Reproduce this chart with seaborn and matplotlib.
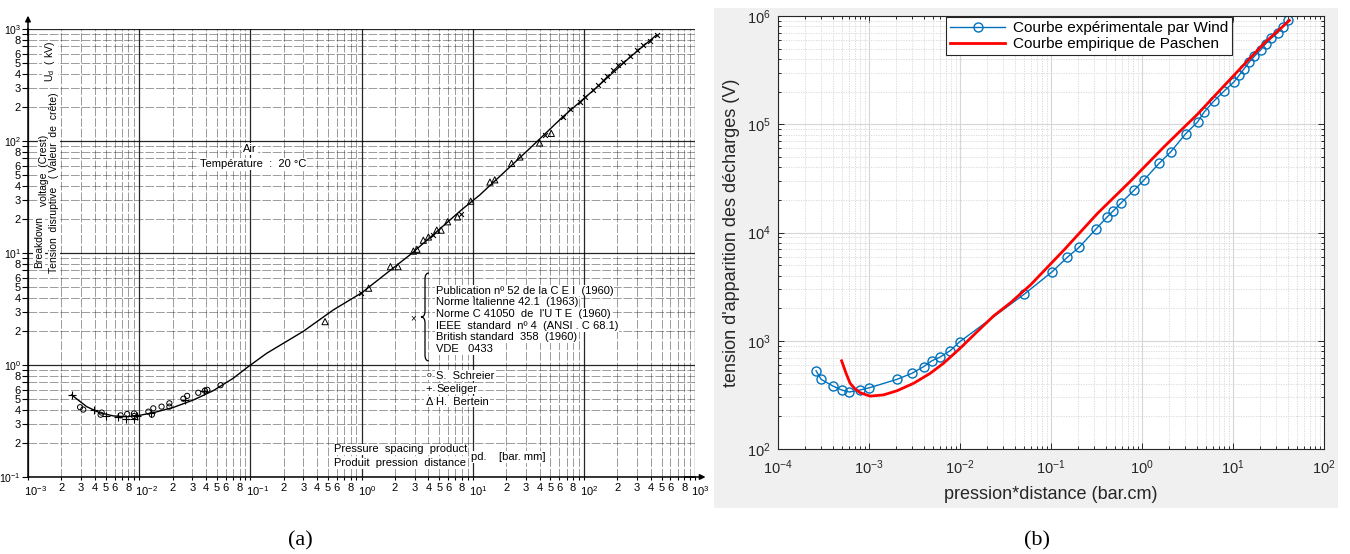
import numpy as np
import seaborn as sns
import matplotlib.pyplot as plt
from matplotlib.ticker import FixedLocator, FuncFormatter, NullFormatter
from matplotlib.patches import Rectangle, PathPatch
from matplotlib.path import Path
from matplotlib.transforms import ScaledTranslation

plt.rcParams['font.family'] = ['Liberation Sans', 'DejaVu Sans']
plt.rcParams['mathtext.fontset'] = 'custom'
plt.rcParams['mathtext.rm'] = 'Liberation Sans'
plt.rcParams['mathtext.it'] = 'Liberation Sans:italic'
plt.rcParams['mathtext.bf'] = 'Liberation Sans:bold'

# ---------------- data, panel (a): air, pd in bar.mm, Ud in kV ----------------
curve_pd = [2.47e-3, 3.37e-3, 4.4e-3, 5.85e-3, 7.7e-3, 1.02e-2, 1.34e-2, 2.03e-2,
            3.07e-2, 4.64e-2, 7.0e-2, 9.57e-2, 0.14, 0.30, 0.557, 1.0, 2.72, 4.4,
            7.9, 11.6, 32.7, 65, 130, 260, 450]
curve_kv = [0.54, 0.425, 0.375, 0.351, 0.345, 0.356, 0.375, 0.418,
            0.487, 0.59, 0.76, 0.966, 1.27, 2.0, 3.1, 4.4, 9.6, 14.5,
            24.2, 33, 86, 165, 300, 560, 883]

schreier_pd = [2.94e-3, 3.14e-3, 4.5e-3, 4.6e-3, 6.8e-3, 7.8e-3, 9.0e-3, 9.0e-3, 1.21e-2,
               1.3e-2, 1.34e-2, 1.59e-2, 1.87e-2, 1.87e-2, 2.5e-2, 2.7e-2, 3.4e-2, 3.9e-2,
               4.1e-2, 5.4e-2]
schreier_kv = [0.42, 0.40, 0.36, 0.376, 0.355, 0.365, 0.37, 0.35, 0.383,
               0.36, 0.41, 0.425, 0.455, 0.425, 0.50, 0.53, 0.565, 0.59,
               0.60, 0.66]

seeliger_pd = [2.5e-3, 3.9e-3, 5.0e-3, 6.5e-3, 7.6e-3, 8.9e-3, 9.6e-3, 1.29e-2, 2.6e-2, 3.8e-2]
seeliger_kv = [0.54, 0.40, 0.35, 0.34, 0.33, 0.33, 0.35, 0.37, 0.49, 0.59]

bertein_pd = [0.47, 1.16, 1.82, 2.13, 2.93, 3.15, 3.6, 4.0, 4.75, 5.2, 5.95, 7.3, 9.6,
              14.3, 15.8, 22.4, 26.6, 40, 51]
bertein_kv = [2.44, 4.85, 7.55, 7.55, 10.4, 10.8, 13, 13.9, 16, 16, 19, 21, 29,
              43, 45, 63, 72, 96, 117]

standards_pd = [0.98, 4.4, 7.9, 45, 65, 75, 92, 102, 121, 135, 149, 160, 184, 204,
                226, 260, 298, 342, 393, 451]
standards_kv = [4.35, 14.5, 22.5, 113, 165, 195, 224, 249, 285, 316, 351, 380, 430, 477,
                511, 574, 650, 720, 787, 883]

standards_text = ["Publication nº 52 de la C E I  (1960)",
                  "Norme Italienne 42.1  (1963)",
                  "Norme C 41050  de  l'U T E  (1960)",
                  "IEEE  standard  nº 4  (ANSI . C 68.1)",
                  "British standard  358  (1960)",
                  "VDE   0433"]

# ---------------- data, panel (b): pd in bar.cm, voltage in V ----------------
wind_pd = [2.62e-4, 2.98e-4, 4.0e-4, 5.0e-4, 6.1e-4, 8.0e-4, 1.01e-3, 2.03e-3, 2.96e-3,
           3.98e-3, 4.9e-3, 5.97e-3, 7.8e-3, 9.9e-3, 0.051, 0.103, 0.151, 0.203, 0.31,
           0.41, 0.485, 0.59, 0.82, 1.05, 1.54, 2.07, 3.03, 4.08, 4.83, 6.13, 8.0,
           10.3, 11.7, 13.3, 15.1, 17.2, 20.3, 23, 26.2, 31, 35, 40.5]
wind_v = [528, 440, 382, 351, 336, 351, 368, 440, 500,
          576, 653, 703, 809, 977, 2700, 4340, 5900, 7280, 10700,
          13800, 15900, 18800, 24600, 30500, 43500, 55600, 82000, 105000, 130000, 163000, 203000,
          247000, 284000, 327000, 377000, 425000, 490000, 557000, 620000, 700000, 790000, 925000]

paschen_pd = [5.0e-4, 5.6e-4, 6.2e-4, 7e-4, 8e-4, 1.03e-3, 1.44e-3, 2.03e-3, 3.1e-3,
              4.7e-3, 6.6e-3, 1e-2, 1.54e-2, 2.35e-2, 3.6e-2, 0.06, 0.139, 0.324,
              0.753, 1.75, 4.08, 9.5, 22, 41.7]
paschen_v = [653, 500, 405, 360, 331, 308, 316, 345, 405,
             500, 620, 850, 1210, 1700, 2250, 3300, 6900, 15000,
             30000, 62000, 124000, 265000, 560000, 910000]

W, H = 1350, 554
fig = plt.figure(figsize=(13.5, 5.54), dpi=100)
fig.patch.set_facecolor('white')


def fx(x):
    return x / W


def fy(y):
    return 1 - y / H


def log_ticks(lo, hi):
    # decade and 2..9 positions strictly inside the axis range
    major = [10.0 ** e for e in range(lo, hi + 1)]
    minor = [m * 10.0 ** e for e in range(lo, hi) for m in range(2, 10)]
    return major, minor


# ================= panel (a) =================
ax = fig.add_axes([fx(28), fy(477), 667 / W, 448 / H])
ax.set_xscale('log')
ax.set_yscale('log')

sns.lineplot(x=curve_pd, y=curve_kv, ax=ax, color='black', linewidth=1.0,
             errorbar=None, sort=True)
sns.scatterplot(x=schreier_pd, y=schreier_kv, ax=ax, marker='o', s=14,
                facecolors='none', edgecolor='black', linewidth=0.7, zorder=4)
sns.scatterplot(x=seeliger_pd, y=seeliger_kv, ax=ax, marker='+', s=28,
                color='black', linewidth=0.8, zorder=4)
sns.scatterplot(x=bertein_pd, y=bertein_kv, ax=ax, marker='^', s=20,
                facecolors='none', edgecolor='black', linewidth=0.7, zorder=4)
sns.scatterplot(x=standards_pd, y=standards_kv, ax=ax, marker='x', s=12,
                color='black', linewidth=0.8, zorder=4)

ax.set_xlim(1e-3, 1e3)
ax.set_ylim(1e-1, 1e3)


def scan_fmt(v, pos):
    e = np.log10(v)
    if abs(e - round(e)) < 1e-6:
        return '$10^{%d}$' % int(round(e))
    m = int(round(v / 10 ** np.floor(e)))
    return '' if m in (7, 9) else str(m)


for axis, (lo, hi) in ((ax.xaxis, (-3, 3)), (ax.yaxis, (-1, 3))):
    major, minor = log_ticks(lo, hi)
    axis.set_major_locator(FixedLocator(major))
    axis.set_minor_locator(FixedLocator(minor))
    axis.set_major_formatter(FuncFormatter(scan_fmt))
    axis.set_minor_formatter(FuncFormatter(scan_fmt))

ax.tick_params(which='both', labelsize=8, colors='black', width=0.8)
ax.tick_params(axis='y', which='both', length=4, pad=1)
ax.tick_params(axis='y', which='major', labelsize=7.5)
ax.tick_params(axis='x', which='both', length=2, pad=2)

# the decade labels on the scan start at the grid line instead of being centred on it
shift = ScaledTranslation(-4 / 100, -2 / 100, fig.dpi_scale_trans)
for lbl in ax.xaxis.get_majorticklabels():
    lbl.set_horizontalalignment('left')
    lbl.set_transform(lbl.get_transform() + shift)

ax.grid(which='major', color='black', linewidth=0.9, alpha=0.85)
ax.grid(which='minor', color='#222222', linewidth=0.45, linestyle=(0, (14, 3)), alpha=0.7)
ax.set_axisbelow(True)
for side in ('top', 'right'):
    ax.spines[side].set_visible(False)
for side in ('left', 'bottom'):
    ax.spines[side].set_linewidth(1.1)
ax.annotate('', xy=(0, 1.036), xytext=(0, 0.98), xycoords='axes fraction',
            arrowprops=dict(arrowstyle='-|>', color='black', lw=1.1, mutation_scale=8))
ax.annotate('', xy=(1.02, 0), xytext=(0.98, 0), xycoords='axes fraction',
            arrowprops=dict(arrowstyle='-|>', color='black', lw=1.1, mutation_scale=8))

white = dict(facecolor='white', edgecolor='none', pad=0.6)
ylab = dict(rotation=90, ha='center', va='center', fontsize=7.5, bbox=white)
fig.text(fx(39), fy(242), 'Breakdown', **ylab)
fig.text(fx(44), fy(170), 'voltage  (Crest)', **ylab)
fig.text(fx(50), fy(62), 'U$_\\mathrm{d}$  ( kV)', **ylab)
fig.text(fx(54), fy(183), 'Tension  disruptive   ( Valeur  de  crête)', **ylab)

fig.text(fx(250), fy(149), 'Air', ha='center', va='center', fontsize=8, bbox=white)
fig.text(fx(253), fy(164), 'Température  :  20 °C', ha='center', va='center',
         fontsize=8, bbox=white)

for i, line in enumerate(standards_text):
    fig.text(fx(436), fy(290.7 + i * 11.7), line, ha='left', va='center',
             fontsize=8, bbox=white)
fig.text(fx(413.5), fy(318), '×', ha='center', va='center', fontsize=7)

brace = [(429, 273), (425, 273), (425, 279), (425, 311), (425, 317), (421, 317),
         (425, 317), (425, 323), (425, 355), (425, 361), (429, 361)]
codes = [Path.MOVETO, Path.CURVE3, Path.CURVE3, Path.LINETO, Path.CURVE3, Path.CURVE3,
         Path.CURVE3, Path.CURVE3, Path.LINETO, Path.CURVE3, Path.CURVE3]
fig.add_artist(PathPatch(Path([(fx(a), fy(b)) for a, b in brace], codes),
                         transform=fig.transFigure, facecolor='none',
                         edgecolor='black', linewidth=0.9))

for i, (sym, name) in enumerate([('o', 'S.  Schreier'), ('+', 'Seeliger'), ('Δ', 'H.  Bertein')]):
    yy = fy(375.7 + i * 13)
    fig.text(fx(429), yy, sym, ha='center', va='center',
             fontsize=6 if sym == 'o' else 8, bbox=white)
    fig.text(fx(436), yy, name, ha='left', va='center', fontsize=8, bbox=white)

fig.text(fx(334), fy(449.5), 'Pressure  spacing  product', ha='left', va='center',
         fontsize=8, bbox=white)
fig.text(fx(334), fy(463.5), 'Produit  pression  distance', ha='left', va='center',
         fontsize=8, bbox=white)
fig.text(fx(471), fy(457), 'pd.    [bar. mm]', ha='left', va='center', fontsize=8,
         bbox=white)

# ================= panel (b) =================
fig.add_artist(Rectangle((fx(714), fy(508)), 624 / W, 500 / H, transform=fig.transFigure,
                         facecolor='#f0f0f0', edgecolor='none', zorder=-5))

axb = fig.add_axes([fx(778), fy(449), 546 / W, 433 / H])
axb.set_facecolor('white')
axb.set_xscale('log')
axb.set_yscale('log')

sns.lineplot(x=wind_pd, y=wind_v, ax=axb, color='#0072BD', linewidth=1.0, marker='o',
             markersize=6.5, markerfacecolor='none', markeredgecolor='#0072BD',
             markeredgewidth=1.0, errorbar=None, label='Courbe expérimentale par Wind')
sns.lineplot(x=paschen_pd, y=paschen_v, ax=axb, color='#ff0000', linewidth=2.0,
             errorbar=None, label='Courbe empirique de Paschen')

axb.set_xlim(1e-4, 1e2)
axb.set_ylim(1e2, 1e6)
for axis, (lo, hi) in ((axb.xaxis, (-4, 2)), (axb.yaxis, (2, 6))):
    major, minor = log_ticks(lo, hi)
    axis.set_major_locator(FixedLocator(major))
    axis.set_minor_locator(FixedLocator(minor))
    axis.set_major_formatter(FuncFormatter(lambda v, p: '$10^{%d}$' % int(round(np.log10(v)))))
    axis.set_minor_formatter(NullFormatter())

dark = '#262626'
axb.tick_params(which='both', direction='in', top=True, right=True, colors=dark,
                labelsize=10.5, width=0.7)
axb.tick_params(which='major', length=4)
axb.tick_params(which='minor', length=2.2)
axb.tick_params(axis='x', pad=7)
axb.tick_params(axis='y', pad=5)
for s in axb.spines.values():
    s.set_color(dark)
    s.set_linewidth(0.8)

axb.grid(which='major', color='#d6d6d6', linewidth=0.8)
axb.grid(which='minor', color='#d6d6d6', linewidth=0.6, linestyle=(0, (1.5, 1.5)))
axb.set_axisbelow(True)

axb.set_xlabel('pression*distance (bar.cm)', fontsize=13, color=dark)
axb.set_ylabel("tension d'apparition des décharges (V)", fontsize=13, color=dark)
axb.xaxis.set_label_coords(0.5, -0.085)
axb.yaxis.set_label_coords(-0.07, 0.5)

leg = axb.legend(loc='upper right', bbox_to_anchor=(0.8315, 0.997), fontsize=11,
                 frameon=True, fancybox=False, edgecolor=dark, framealpha=1,
                 handlelength=3.6, borderaxespad=0, borderpad=0.25, labelspacing=0.15,
                 handletextpad=0.5)
leg.get_frame().set_linewidth(0.8)

# ================= captions =================
fig.text(fx(300), fy(541), '(a)', family='Liberation Serif', fontsize=16,
         ha='center', va='center')
fig.text(fx(1037), fy(541), '(b)', family='Liberation Serif', fontsize=16,
         ha='center', va='center')

fig.savefig('out.png', dpi=100)
